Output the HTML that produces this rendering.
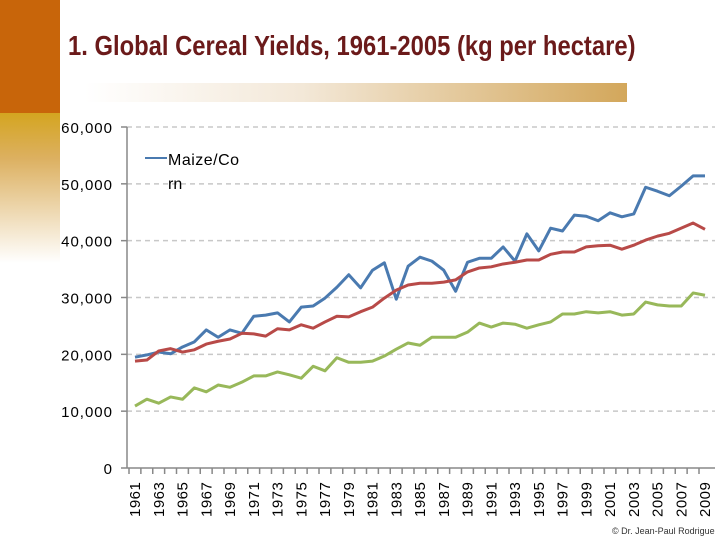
<!DOCTYPE html>
<html><head><meta charset="utf-8"><style>
body{margin:0;width:720px;height:540px;overflow:hidden;background:#fff;font-family:"Liberation Sans",sans-serif;position:relative}
</style></head><body>
<div style="position:absolute;left:0;top:0;width:60px;height:113px;background:#c8650a"></div>
<div style="position:absolute;left:0;top:113px;width:60px;height:150px;background:linear-gradient(#d4a520,#dcb060 30%,#fff)"></div>
<div style="position:absolute;left:85px;top:83px;width:542px;height:19px;background:linear-gradient(90deg,#fff,#f3e8d8 40%,#d3a75b)"></div>
<div style="position:absolute;left:68px;top:30px;font:bold 28px 'Liberation Sans Narrow','Liberation Sans',sans-serif;color:#6b1a1a;transform:scaleX(0.85);transform-origin:left;white-space:nowrap">1. Global Cereal Yields, 1961-2005 (kg per hectare)</div>
<svg id="chart" width="720" height="540" style="position:absolute;left:0;top:0"></svg>
<div style="position:absolute;left:612px;top:526px;font-size:9px;color:#333;white-space:nowrap">© Dr. Jean-Paul Rodrigue</div>
<script>
const years=[];for(let y=1961;y<=2009;y++)years.push(y);
const yTicks=[0,10000,20000,30000,40000,50000,60000];
const maize=[19500,19900,20400,20100,21300,22200,24300,23000,24300,23700,26700,26900,27300,25700,28300,28500,29900,31800,34000,31700,34800,36100,29700,35500,37100,36400,34800,31100,36200,36900,36900,38900,36400,41200,38200,42200,41700,44500,44300,43500,44900,44200,44700,49400,48700,47900,49600,51400,51400];
const rice=[18800,19000,20600,21000,20400,20800,21800,22300,22700,23700,23600,23200,24500,24300,25200,24600,25700,26700,26600,27500,28300,29900,31300,32200,32500,32500,32700,33100,34500,35200,35400,35900,36200,36600,36600,37600,38000,38000,38900,39100,39200,38500,39200,40100,40800,41300,42200,43100,42000];
const wheat=[10900,12100,11400,12500,12100,14100,13400,14600,14200,15100,16200,16200,16900,16400,15800,17900,17100,19400,18600,18600,18800,19700,20900,22000,21600,23000,23000,23000,23900,25500,24800,25500,25300,24600,25200,25700,27100,27100,27500,27300,27500,26900,27100,29200,28700,28500,28500,30800,30400];
const svg=document.getElementById('chart');const NS='http://www.w3.org/2000/svg';
const X=i=>135+i*(705-135)/(years.length-1);
const Y=v=>468-v/60000*341;
function mk(t,a){const e=document.createElementNS(NS,t);for(const k in a)e.setAttribute(k,a[k]);svg.appendChild(e);return e;}
yTicks.forEach(v=>{
 if(v>0){const g=mk('line',{x1:127,x2:715,y1:Y(v),y2:Y(v),stroke:'#c8c8c8','stroke-width':1.5,'stroke-dasharray':'5,4'});
 
 }
 const t=mk('text',{x:113,y:Y(v)+6,'text-anchor':'end','font-size':15,'letter-spacing':1,fill:'#000'});t.textContent=v.toLocaleString('en-US');
 
 
 const tk=mk('line',{x1:121,x2:127,y1:Y(v),y2:Y(v),stroke:'#888','stroke-width':1.5});
 
 
});
const ax=mk('line',{x1:127,x2:127,y1:127,y2:468,stroke:'#888','stroke-width':1.5});


const xa=mk('line',{x1:127,x2:715,y1:468,y2:468,stroke:'#888','stroke-width':1.5});


years.forEach((yr,i)=>{
 const tk=mk('line',{x1:X(i)-6,x2:X(i)-6,y1:468,y2:474,stroke:'#888','stroke-width':1.5});
 
 
 if(yr%2===0)return;
 const t=mk('text',{x:X(i)+5,y:517,'font-size':15,'letter-spacing':0.5,transform:`rotate(-90 ${X(i)+5} 517)`});t.textContent=yr;
 
 });
[[maize,'#4a7ab0','maize-line'],[rice,'#b84a48','rice-line'],[wheat,'#98b85a','wheat-line']].forEach(([d,c,n])=>{
 const p=mk('polyline',{points:d.map((v,i)=>X(i)+','+Y(v)).join(' '),fill:'none',stroke:c,'stroke-width':3,'stroke-linejoin':'round'});
 
 });
const ll=mk('line',{x1:145,x2:167,y1:158,y2:158,stroke:'#4a7ab0','stroke-width':2});


const l1=mk('text',{x:168,y:165,'font-size':16,'letter-spacing':0.5});l1.textContent='Maize/Co';


const l2=mk('text',{x:168,y:189,'font-size':16});l2.textContent='rn';


</script>
</body></html>
